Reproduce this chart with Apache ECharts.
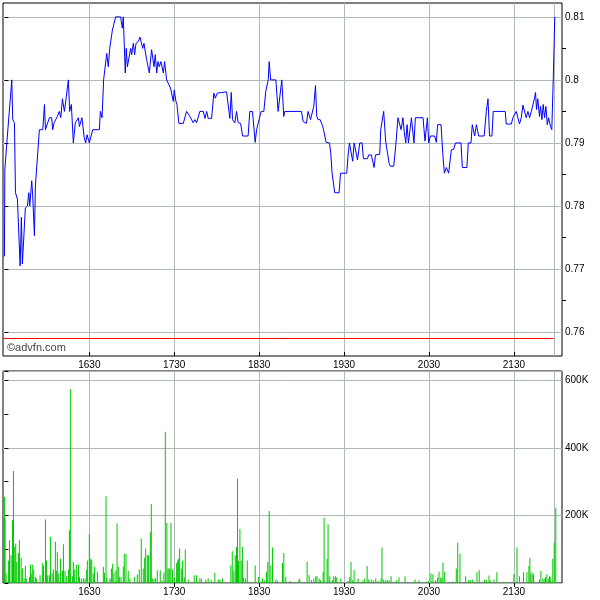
<!DOCTYPE html>
<html><head><meta charset="utf-8">
<script src="https://cdn.jsdelivr.net/npm/echarts@6/dist/echarts.min.js"></script>
<style>html,body{margin:0;padding:0;background:#fff;}#c{width:600px;height:600px;}</style>
</head><body><div id="c"></div>
<script>
// minutes after 15:30
const priceMinutes = [0,0.3,1.7,5.2,5.9,7.1,7.8,9.2,11.1,12.0,12.7,14.8,16.3,17.2,17.9,19.3,20.0,21.2,21.9,23.3,24.7,27.1,28.3,29.0,30.6,31.8,33.4,34.1,35.1,36.3,37.4,38.8,39.8,41.0,42.4,43.6,45.2,46.1,47.3,48.7,50.1,52.3,53.0,54.8,56.3,57.4,58.4,60.0,62.4,67.1,67.8,69.0,70.1,71.3,72.3,73.4,74.4,76.3,78.6,82.1,83.3,84.0,85.4,86.1,86.9,88.3,89.2,89.9,91.1,92.0,93.0,94.6,95.8,97.7,98.6,100.5,102.4,104.0,105.7,106.6,107.6,108.5,109.4,110.6,112.3,113.2,114.6,115.8,117.4,119.3,120.0,121.2,121.9,123.3,126.4,128.7,130.1,131.1,133.4,134.6,135.8,138.1,140.5,141.7,142.9,144.0,146.4,148.0,149.0,150.4,153.4,157.0,158.1,159.3,160.3,161.2,162.8,164.0,165.2,166.9,168.3,172.2,173.4,175.3,177.2,178.2,179.6,181.4,183.3,184.7,186.4,187.1,188.1,191.8,193.4,194.1,196.0,197.4,198.1,209.9,211.1,212.3,213.4,214.6,215.3,216.3,217.7,218.6,219.8,220.7,221.6,223.1,224.5,225.5,226.4,227.3,229.7,230.6,231.5,233.4,236.5,237.5,241.9,242.8,243.8,245.2,246.1,247.1,248.3,249.5,251.1,252.7,253.7,256.5,257.4,258.4,259.3,260.3,261.2,262.2,265.2,265.9,267.1,268.0,269.4,270.4,271.8,272.7,275.1,276.5,278.1,279.3,280.3,281.6,282.6,283.6,284.5,285.5,286.9,287.6,288.7,289.4,290.4,295.8,297.2,298.9,299.8,301.0,304.0,305.2,306.1,308.5,309.9,310.9,312.3,313.9,315.8,317.4,318.8,322.6,323.6,326.8,327.8,329.7,330.6,332.3,333.5,335.1,339.0,340.5,341.7,342.8,344.5,345.4,353.9,354.6,358.2,359.3,360.6,361.7,362.8,364.0,365.2,366.4,367.7,368.7,369.9,371.1,372.3,373.4,374.6,375.3,376.0,376.9,378.1,378.8,379.8,380.7,381.7,382.6,383.6,384.5,385.9,386.8,387.8,388.9];
const priceValues = [0.772,0.7857,0.790,0.800,0.7937,0.7932,0.7821,0.7811,0.7705,0.7782,0.7708,0.7797,0.780,0.7821,0.780,0.784,0.7816,0.7753,0.7832,0.7832,0.7921,0.7921,0.7961,0.7921,0.7932,0.794,0.794,0.7921,0.7932,0.7932,0.7942,0.795,0.794,0.797,0.795,0.7971,0.800,0.795,0.7961,0.790,0.7932,0.794,0.7926,0.794,0.791,0.790,0.7913,0.790,0.7921,0.7921,0.795,0.794,0.800,0.8003,0.8042,0.8021,0.805,0.8079,0.810,0.810,0.8082,0.810,0.8011,0.805,0.8021,0.8021,0.805,0.804,0.8058,0.804,0.8058,0.8061,0.8068,0.805,0.8058,0.8032,0.8011,0.8048,0.8021,0.804,0.8011,0.8029,0.8021,0.8029,0.8011,0.8029,0.800,0.7997,0.7987,0.7966,0.7984,0.7966,0.7961,0.7931,0.7931,0.795,0.795,0.7942,0.7932,0.7937,0.7932,0.795,0.795,0.7939,0.795,0.7939,0.7939,0.7979,0.7971,0.7979,0.798,0.7981,0.7979,0.7939,0.798,0.7937,0.7932,0.795,0.7932,0.7931,0.7911,0.7911,0.795,0.795,0.7901,0.7921,0.7921,0.795,0.795,0.7982,0.800,0.8029,0.800,0.800,0.795,0.795,0.800,0.7942,0.795,0.795,0.7934,0.7934,0.7931,0.795,0.795,0.7937,0.7937,0.7958,0.7991,0.7942,0.7937,0.7937,0.7929,0.7921,0.792,0.7901,0.790,0.7884,0.7853,0.7821,0.7821,0.7852,0.7852,0.7879,0.790,0.790,0.7871,0.790,0.790,0.7873,0.790,0.790,0.7875,0.7875,0.7881,0.7879,0.7881,0.7879,0.7861,0.7881,0.7882,0.7921,0.7921,0.795,0.7903,0.790,0.7868,0.7863,0.7863,0.7895,0.794,0.794,0.7921,0.794,0.7916,0.790,0.7929,0.790,0.790,0.794,0.794,0.790,0.794,0.794,0.7903,0.794,0.790,0.7911,0.7911,0.7901,0.7929,0.7929,0.7879,0.7852,0.7861,0.7852,0.7889,0.789,0.790,0.790,0.7861,0.7861,0.790,0.790,0.7929,0.7911,0.7929,0.7911,0.7911,0.795,0.797,0.7911,0.7911,0.795,0.795,0.793,0.793,0.794,0.794,0.795,0.795,0.793,0.794,0.796,0.796,0.794,0.795,0.794,0.795,0.795,0.7971,0.798,0.7953,0.797,0.7942,0.7958,0.7937,0.7961,0.794,0.7958,0.7929,0.794,0.7926,0.7921,0.800,0.810];
const volMinutes = [0,0.5,1.2,2.8,3.6,4.7,5.7,6.4,7.3,8.0,8.7,9.9,10.6,11.8,12.7,13.9,14.8,15.8,17.7,18.4,19.3,20.0,20.7,21.9,22.8,25.2,26.8,27.6,29.0,29.7,30.6,31.8,32.5,33.7,34.6,36.0,36.7,37.4,38.4,39.6,41.0,41.7,42.8,44.0,45.2,45.9,46.6,48.0,48.7,49.4,50.8,52.3,53.0,54.4,55.8,57.0,58.1,58.6,60.0,60.7,61.7,62.8,63.6,65.7,69.9,70.8,71.8,72.5,74.6,75.6,76.5,77.4,78.8,79.6,80.5,81.2,82.4,84.0,84.7,85.9,87.5,88.7,91.8,93.9,95.3,96.7,98.1,99.1,99.8,101.0,101.9,103.1,103.8,104.5,105.7,106.8,108.0,110.1,111.3,112.7,113.7,114.8,115.6,116.3,117.0,117.7,118.8,120.0,121.7,122.4,123.1,123.8,125.0,125.9,127.1,127.8,129.9,134.1,135.8,138.1,139.1,142.4,144.0,146.1,148.7,151.1,152.3,154.2,160.0,161.0,162.1,163.1,164.0,164.7,165.4,166.4,167.3,168.3,169.0,170.4,171.6,172.7,177.2,179.6,182.4,184.0,185.2,186.1,187.1,188.3,189.4,191.8,193.0,196.5,197.4,198.8,201.7,208.0,208.7,213.9,215.3,217.0,218.6,220.0,220.9,222.4,223.3,225.2,225.9,228.0,228.7,229.9,231.8,232.7,233.9,234.8,237.7,242.8,244.0,244.9,245.9,247.1,249.9,253.4,254.6,256.3,257.4,259.3,260.9,262.4,264.0,266.1,266.8,268.0,269.4,270.6,271.8,273.2,275.1,276.9,278.8,283.1,290.1,292.9,298.1,299.6,301.4,302.8,304.7,306.1,307.1,308.3,309.2,309.9,311.1,316.5,319.3,320.3,321.9,325.9,328.0,329.2,330.6,333.9,335.5,339.3,340.5,342.4,343.3,345.9,348.0,352.3,355.1,360.0,362.2,364.0,366.8,369.2,370.6,371.3,372.0,372.9,373.9,378.1,379.1,380.5,381.4,382.4,383.3,384.3,385.2,386.1,387.5,388.5,389.6];
const volValues = [255000,191000,28000,67000,127000,82000,186000,332000,107000,117000,62000,89000,127000,75000,43000,13000,50000,13000,18000,55000,28000,55000,40000,18000,13000,23000,59000,52000,188000,67000,23000,23000,137000,28000,40000,122000,36000,92000,28000,72000,36000,115000,36000,20000,40000,156000,574000,20000,62000,40000,55000,55000,18000,13000,13000,13000,40000,67000,145000,72000,69000,28000,48000,33000,48000,30000,257000,16000,13000,43000,57000,30000,38000,176000,48000,18000,18000,48000,87000,87000,36000,13000,18000,26000,40000,132000,43000,75000,102000,82000,82000,151000,234000,13000,13000,13000,38000,38000,8000,30000,448000,178000,43000,43000,43000,178000,40000,16000,59000,67000,72000,102000,43000,67000,16000,99000,10000,23000,23000,13000,13000,10000,13000,8000,30000,10000,10000,13000,52000,94000,38000,82000,107000,309000,65000,161000,67000,107000,16000,13000,67000,3000,52000,18000,13000,8000,33000,62000,213000,52000,105000,10000,6000,59000,89000,18000,6000,8000,13000,62000,23000,8000,13000,20000,20000,13000,8000,33000,193000,72000,174000,20000,8000,20000,20000,16000,13000,6000,18000,62000,8000,38000,13000,8000,13000,50000,10000,10000,8000,13000,6000,13000,105000,10000,8000,8000,8000,20000,3000,8000,16000,20000,10000,8000,4000,6000,28000,26000,8000,16000,33000,16000,16000,60000,33000,4000,43000,119000,87000,20000,8000,8000,10000,32000,38000,10000,8000,22000,8000,10000,32000,4000,4000,26000,105000,20000,32000,32000,50000,75000,28000,32000,26000,10000,36000,13000,13000,18000,26000,13000,20000,18000,72000,119000,222000];
const timeTicks = [60,120,180,240,300,360];
const priceTicks = [0.76,0.77,0.78,0.79,0.80,0.81];
const priceHalfTicks = [0.765,0.775,0.785,0.795,0.805];
const prevClose = 0.759;
const lastTradeMinute = 388.2;
const sessionStartMinutes = 15*60+30;

function fmtTime(v){
  const t = Math.round(sessionStartMinutes + v);
  const h = Math.floor(t/60), m = t % 60;
  return String(h) + String(m).padStart(2,'0');
}
const FONT = 'Liberation Sans, Arial, sans-serif';
const GRIDC = '#b0b8b8';

function xAxisCfg(gi, tickInside){
  return {
    type:'value', gridIndex:gi, min:-1, max:394,
    axisLine:{show:false},
    axisTick:{show:true, inside:tickInside, length:4, customValues:timeTicks, lineStyle:{color:'#000'}},
    axisLabel:{customValues:timeTicks, formatter:fmtTime, fontSize:10, color:'#000', margin:4, fontFamily:FONT},
    splitLine:{show:true, lineStyle:{color:GRIDC, width:1}}
  };
}

const chart = echarts.init(document.getElementById('c'), null, {renderer:'canvas'});
chart.setOption({
  animation:false,
  backgroundColor:'#fff',
  grid:[
    {left:3, top:3, width:559, height:353, show:true, borderColor:'#000', borderWidth:1, backgroundColor:'#fff'},
    {left:3, top:371, width:559, height:212, show:true, borderColor:'#000', borderWidth:1, backgroundColor:'#fff'}
  ],
  graphic:[{type:'text', left:7, top:342, z:100, style:{text:'\u00a9advfn.com', font:'11px '+FONT, fill:'#444'}}],
  xAxis:[xAxisCfg(0,true), xAxisCfg(1,false)],
  yAxis:[
    {type:'value', gridIndex:0, position:'right', min:0.7562, max:0.8122,
     axisLine:{show:false},
     axisTick:{show:true, length:4, customValues:priceTicks, lineStyle:{color:'#000'}},
     axisLabel:{customValues:priceTicks, formatter:v=>String(+(+v).toFixed(3)), fontSize:10, color:'#000', margin:3, fontFamily:FONT},
     splitLine:{show:true, lineStyle:{color:GRIDC, width:1}}},
    {type:'value', gridIndex:0, position:'right', min:0.7562, max:0.8122,
     axisLine:{show:false},
     axisTick:{show:true, length:4, customValues:priceHalfTicks, lineStyle:{color:'#000'}},
     axisLabel:{show:false}, splitLine:{show:false}},
    {type:'value', gridIndex:1, position:'right', min:0, max:628000, interval:200000,
     axisLine:{show:false},
     axisTick:{show:true, length:4, lineStyle:{color:'#000'}},
     minorTick:{show:true, splitNumber:2, length:4, lineStyle:{color:'#000'}},
     axisLabel:{formatter:v=> v===0 ? '' : (v/1000)+'K', fontSize:10, color:'#000', margin:3, fontFamily:FONT},
     splitLine:{show:true, lineStyle:{color:GRIDC, width:1}}}
  ],
  series:[
    {type:'line', xAxisIndex:0, yAxisIndex:0, data:priceMinutes.map((m,i)=>[m,priceValues[i]]),
     showSymbol:false, symbol:'none', lineStyle:{color:'#0000ff', width:1}, z:5,
     markLine:{silent:true, symbol:'none', label:{show:false}, animation:false,
       data:[
         [{coord:[-1,prevClose], lineStyle:{color:'#ff0000', width:1, type:'solid'}},{coord:[lastTradeMinute,prevClose]}],
         {xAxis:lastTradeMinute, lineStyle:{color:GRIDC, width:1, type:'solid'}}
       ]}},
    {type:'bar', xAxisIndex:1, yAxisIndex:2, data:volMinutes.map((m,i)=>[m,volValues[i]]),
     barWidth:1, itemStyle:{color:'#00c800'}, z:5,
     markLine:{silent:true, symbol:'none', label:{show:false}, animation:false,
       data:[{xAxis:lastTradeMinute, lineStyle:{color:GRIDC, width:1, type:'solid'}}]}}
  ]
});
</script></body></html>
